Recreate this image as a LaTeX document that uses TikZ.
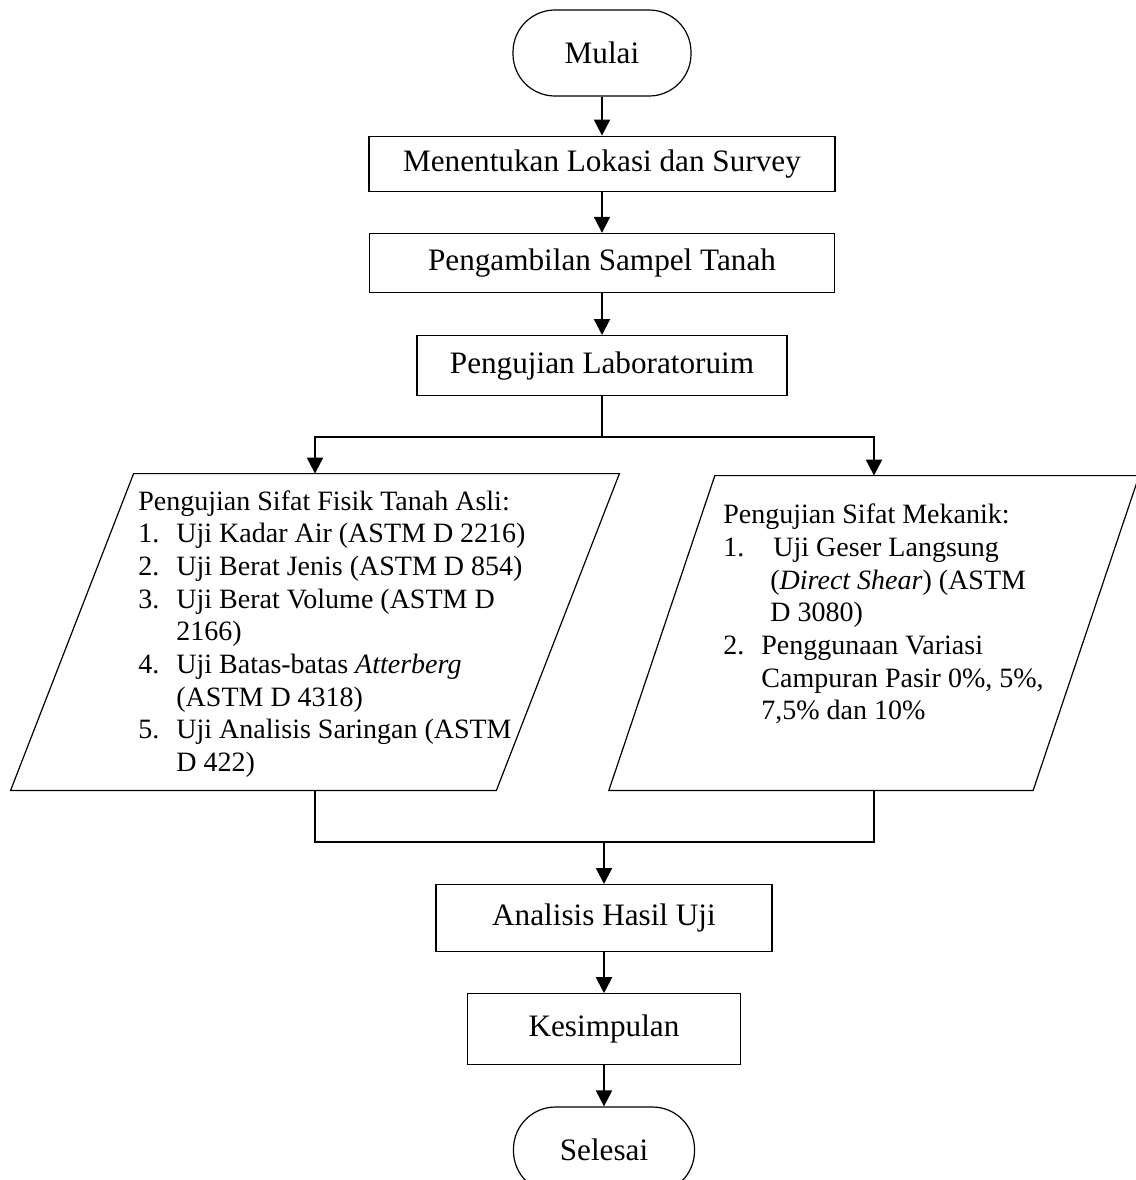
\documentclass[tikz,border=0pt]{standalone}
\usepackage{fontspec}
\setmainfont{Liberation Serif}
\usetikzlibrary{arrows.meta, positioning}

\newcommand{\numlbl}[2][19pt]{\makebox[#1][l]{#2}}

\begin{document}
\begin{tikzpicture}[
	font=\fontsize{15.6pt}{18pt}\selectfont,
	terminal/.style={draw, line width=0.6pt, rounded corners=21pt, minimum width=89pt, minimum height=43pt, inner sep=0pt},
	process/.style={draw, line width=0.6pt, inner sep=0pt},
	para/.style={inner sep=0pt},
	paraline/.style={line width=0.6pt},
	listtext/.style={align=left, inner sep=0pt, font=\fontsize{14pt}{16.35pt}\selectfont},
	arr/.style={line width=1pt, -{Triangle[length=8pt, width=8pt]}},
	line/.style={line width=1pt}
	]
	
	\useasboundingbox (0,0) rectangle (568pt,-590pt);
	
	% alur atas
	\node[terminal] (mulai) at (301pt,-26.5pt) {Mulai};
	\node[process, minimum width=233pt, minimum height=27.5pt, below=19.5pt of mulai] (lokasi) {Menentukan Lokasi dan Survey};
	\node[process, minimum width=232.5pt, minimum height=29.5pt, below=20.5pt of lokasi] (sampel) {Pengambilan Sampel Tanah};
	\node[process, minimum width=185pt, minimum height=30pt, below=21pt of sampel] (lab) {Pengujian Laboratoruim};
	\coordinate[below=20.5pt of lab] (split);
	
	% pengujian (jajaran genjang)
	\node[para, minimum width=242.5pt, minimum height=158pt] (fisik) at (157.5pt,-316pt) {};
	\node[para, minimum width=211.75pt, minimum height=157pt] (mekanik) at (437pt,-316.5pt) {};
	\draw[paraline] ([xshift=30.75pt]fisik.north west) -- ([xshift=30.75pt]fisik.north east)
		-- ([xshift=-30.75pt]fisik.south east) -- ([xshift=-30.75pt]fisik.south west) -- cycle;
	\draw[paraline] ([xshift=26.5pt]mekanik.north west) -- ([xshift=26.5pt]mekanik.north east)
		-- ([xshift=-26.5pt]mekanik.south east) -- ([xshift=-26.5pt]mekanik.south west) -- cycle;
	
	\node[listtext, anchor=west] (fisikteks) at (69pt,-317pt) {Pengujian Sifat Fisik Tanah Asli:\\
		\numlbl{1.}Uji Kadar Air (ASTM D 2216)\\
		\numlbl{2.}Uji Berat Jenis (ASTM D 854)\\
		\numlbl{3.}Uji Berat Volume (ASTM D\\
		\numlbl{}2166)\\
		\numlbl{4.}Uji Batas-batas \textit{Atterberg}\\
		\numlbl{}(ASTM D 4318)\\
		\numlbl{5.}Uji Analisis Saringan (ASTM\\
		\numlbl{}D 422)};
	\node[listtext, anchor=west] (mekanikteks) at (361.5pt,-307pt) {Pengujian Sifat Mekanik:\\
		\numlbl[25pt]{1.}Uji Geser Langsung\\
		\numlbl[23.5pt]{}(\textit{Direct Shear}) (ASTM\\
		\numlbl[23.5pt]{}D 3080)\\
		\numlbl{2.}Penggunaan Variasi\\
		\numlbl{}Campuran Pasir 0\%, 5\%,\\
		\numlbl{}7,5\% dan 10\%};
	
	% alur bawah
	\coordinate (merge) at (302pt,-421pt);
	\node[process, minimum width=168pt, minimum height=33.5pt, below=21pt of merge] (analisis) {Analisis Hasil Uji};
	\node[process, minimum width=136.5pt, minimum height=35.5pt, below=20.5pt of analisis] (kesimpulan) {Kesimpulan};
	\node[terminal, minimum width=90.5pt, below=20.5pt of kesimpulan] (selesai) {Selesai};
	
	\draw[arr] (mulai) -- (lokasi);
	\draw[arr] (lokasi) -- (sampel);
	\draw[arr] (sampel) -- (lab);
	\draw[line] (lab) -- (split);
	\draw[arr] (split) -| (fisik.north);
	\draw[arr] (split) -| (mekanik.north);
	\draw[line] (fisik.south) |- (merge) -| (mekanik.south);
	\draw[arr] (merge) -- (analisis);
	\draw[arr] (analisis) -- (kesimpulan);
	\draw[arr] (kesimpulan) -- (selesai);
	
\end{tikzpicture}
\end{document}
